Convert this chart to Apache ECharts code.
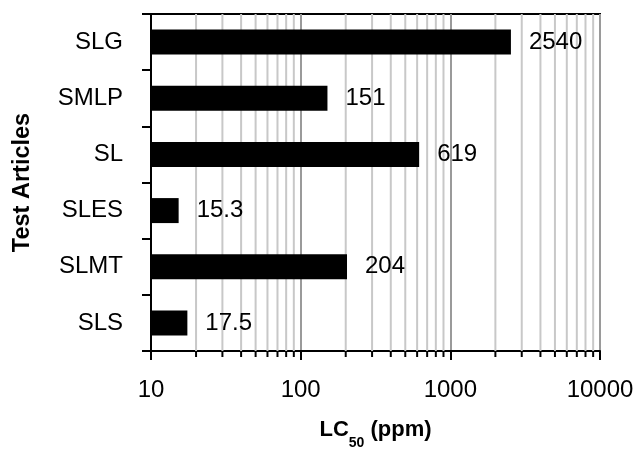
<!DOCTYPE html>
<html>
<head>
<meta charset="utf-8">
<script src="https://cdn.jsdelivr.net/npm/echarts@6/dist/echarts.min.js"></script>
<style>
html,body{margin:0;padding:0;background:#fff;}
#chart{width:634px;height:450px;}
</style>
</head>
<body>
<div id="chart"></div>
<script>
// Categories, top to bottom
const categories = ['SLG', 'SMLP', 'SL', 'SLES', 'SLMT', 'SLS'];
// LC50 values (ppm)
const lc50Values = [2540, 151, 619, 15.3, 204, 17.5];
// x-axis tick labels (log scale decades)
const xTickLabels = ['10', '100', '1000', '10000'];
// minor gridline / tick positions
const minorPositions = [20, 30, 40, 50, 60, 70, 80, 90,
  200, 300, 400, 500, 600, 700, 800, 900,
  2000, 3000, 4000, 5000, 6000, 7000, 8000, 9000];

const FONT = "'Liberation Sans', Arial, sans-serif";
const chart = echarts.init(document.getElementById('chart'), null, {renderer: 'canvas'});

const option = {
  animation: false,
  backgroundColor: '#fff',
  grid: {
    left: 151, right: 34, top: 14, bottom: 99,
    outerBoundsMode: 'none',
    containLabel: false,
    show: true, borderColor: '#000', borderWidth: 2, backgroundColor: 'transparent'
  },
  xAxis: {
    type: 'log',
    logBase: 10,
    min: 10,
    max: 10000,
    name: '{a|LC}{s|50}{a| (ppm)}',
    nameLocation: 'middle',
    nameGap: 59,
    nameTextStyle: {
      rich: {
        a: {fontFamily: FONT, fontSize: 22, fontWeight: 'bold', color: '#000', lineHeight: 40},
        s: {fontFamily: FONT, fontSize: 14, fontWeight: 'bold', color: '#000', lineHeight: 16, verticalAlign: 'bottom'}
      }
    },
    axisLine: {show: true, lineStyle: {color: '#000', width: 2}},
    axisTick: {show: true, inside: false, length: 9, lineStyle: {color: '#000', width: 2}},
    axisLabel: {
      fontFamily: FONT, fontSize: 24, color: '#000', margin: 27,
      formatter: function (v) {
        const idx = Math.round(Math.log10(v)) - 1;
        return xTickLabels[idx] !== undefined ? xTickLabels[idx] : '';
      }
    },
    splitLine: {show: true, lineStyle: {color: '#9a9a9a', width: 2}},
    minorTick: {show: false},
    minorSplitLine: {show: false}
  },
  yAxis: {
    type: 'category',
    data: categories,
    inverse: true,
    name: 'Test Articles',
    nameLocation: 'middle',
    nameRotate: 90,
    nameGap: 116,
    nameTextStyle: {fontFamily: FONT, fontSize: 23.5, fontWeight: 'bold', color: '#000'},
    axisLine: {show: true, lineStyle: {color: '#000', width: 2}},
    axisTick: {show: true, inside: false, length: 9, alignWithLabel: false, lineStyle: {color: '#000', width: 2}},
    axisLabel: {fontFamily: FONT, fontSize: 24, color: '#000', margin: 28},
    splitLine: {show: false}
  },
  series: [
    {
      type: 'custom',
      z: 1,
      silent: true,
      clip: false,
      data: minorPositions.map(function (v) { return [v, 0]; }),
      encode: {x: 0, y: 1},
      renderItem: function (params, api) {
        const x = api.coord([api.value(0), 0])[0];
        const cs = params.coordSys;
        return {
          type: 'group',
          children: [
            {type: 'line', shape: {x1: x, y1: cs.y, x2: x, y2: cs.y + cs.height},
              style: {stroke: '#c8c8c8', lineWidth: 2}},
            {type: 'line', shape: {x1: x, y1: cs.y + cs.height, x2: x, y2: cs.y + cs.height + 6},
              style: {stroke: '#000', lineWidth: 2}}
          ]
        };
      }
    },
    {
      type: 'bar',
      z: 3,
      data: lc50Values,
      barWidth: 25,
      itemStyle: {color: '#000'},
      label: {
        show: true,
        position: 'right',
        distance: 18,
        fontFamily: FONT,
        fontSize: 24,
        color: '#000'
      }
    }
  ]
};
chart.setOption(option);
</script>
</body>
</html>
